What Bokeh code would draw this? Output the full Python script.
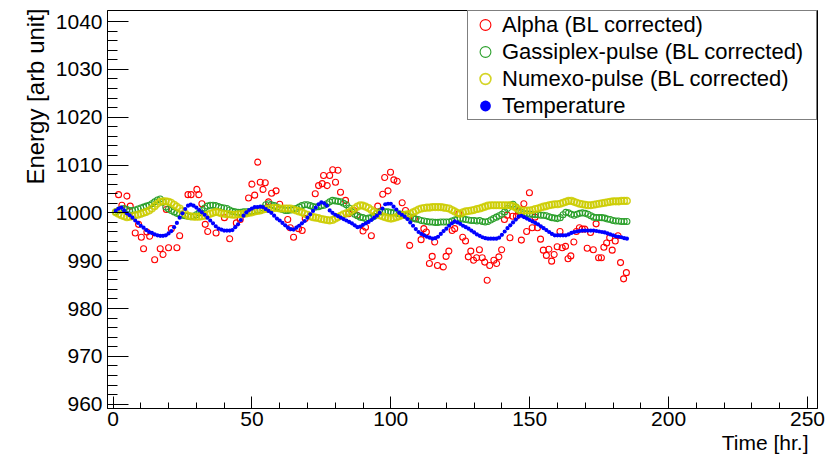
from bokeh.plotting import figure
from bokeh.models import Range1d, FixedTicker, Legend, LegendItem, Title
from bokeh.embed import file_html
from bokeh.resources import INLINE

# ---------------- data ----------------
alpha_t = [2.0, 3.2, 5.0, 6.2, 8.0, 9.2, 10.2, 11.0, 12.2, 13.2, 15.0, 17.0, 18.0, 19.2, 20.0, 21.0,
           23.0, 24.0, 27.0, 28.1, 30.2, 30.9, 32.0, 33.2, 34.1, 37.1, 40.1, 42.0, 44.4, 45.8, 48.8,
           50.0, 51.0, 52.1, 53.0, 54.0, 54.8, 56.0, 57.1, 58.7, 60.0, 62.9, 63.8, 65.0, 66.8, 68.1,
           69.2, 72.8, 74.0, 75.3, 75.8, 77.1, 78.0, 79.1, 80.1, 81.0, 81.9, 83.7, 84.9, 86.7, 87.9,
           90.0, 90.9, 93.0, 95.3, 97.1, 97.8, 99.0, 99.9, 101.1, 102.3, 104.1, 105.3, 106.8, 108.5,
           110.9, 111.9, 112.8, 113.9, 114.9, 115.8, 116.8, 118.9, 119.9, 120.9, 122.1, 123.0, 124.5,
           125.9, 126.9, 127.9, 128.8, 129.8, 130.9, 131.9, 132.9, 133.8, 134.7, 135.6, 137.1, 138.1,
           138.9, 139.9, 140.9, 141.9, 142.9, 143.9, 145.2, 145.9, 147.0, 147.9, 148.9, 149.9, 150.9,
           151.9, 152.8, 153.9, 154.9, 156.0, 156.9, 157.9, 158.8, 159.9, 160.9, 161.7, 162.9, 163.8,
           164.8, 165.9, 166.8, 167.9, 168.9, 169.8, 170.7, 171.9, 172.9, 173.9, 174.8, 175.8, 176.7,
           177.7, 178.8, 179.7, 180.8, 181.8, 182.7, 183.8, 184.8]
alpha_e = [1003.8, 1001.6, 1003.5, 1001.4, 995.8, 997.6, 994.9, 992.5, 996.0, 995.1, 990.2, 992.5,
           991.3, 1000.7, 992.7, 996.7, 992.7, 995.2, 1003.8, 1003.8, 1004.9, 1003.8, 1001.9, 997.6,
           996.1, 995.8, 999.0, 994.6, 997.9, 998.6, 1003.1, 1006.0, 1003.7, 1010.6, 1006.4, 1004.9,
           1006.3, 1002.3, 1004.1, 1004.6, 1001.8, 998.6, 996.9, 994.9, 996.7, 996.3, 998.8, 1004.0,
           1005.7, 1006.1, 1007.8, 1005.7, 1007.8, 1009.0, 1006.4, 1008.9, 1004.3, 1002.6, 999.8,
           1000.5, 999.5, 996.2, 997.0, 995.2, 1001.4, 1003.9, 1007.4, 1004.6, 1008.5, 1006.9, 1006.6,
           1002.1, 1000.5, 993.2, 998.8, 994.4, 996.7, 996.0, 989.4, 990.9, 993.9, 989.0, 988.7, 990.9,
           992.0, 996.3, 996.7, 999.8, 994.9, 994.1, 990.8, 992.0, 990.1, 990.6, 992.3, 990.6, 989.7,
           985.9, 989.0, 990.1, 989.4, 990.8, 992.3, 998.6, 999.5, 994.8, 999.3, 999.3, 1000.3, 994.3,
           1001.9, 996.1, 1004.2, 996.9, 999.1, 996.9, 994.5, 992.2, 991.1, 992.4, 989.9, 991.3, 992.9,
           996.1, 992.7, 993.0, 990.4, 991.0, 993.9, 996.1, 996.9, 996.6, 996.6, 992.6, 995.9, 992.3,
           997.7, 990.6, 990.6, 992.8, 993.7, 994.8, 992.2, 994.1, 995.2, 989.6, 986.2, 987.5]

hours = list(range(1, 186))

gassiplex_e = [1000.2, 1000.5, 1000.8, 1000.9, 1000.7, 1000.5, 1000.5, 1000.6, 1000.8, 1001.0,
               1001.2, 1001.4, 1001.6, 1001.9, 1002.3, 1002.7, 1002.9, 1002.2, 1001.2, 1000.8,
               1000.5, 1000.2, 999.9, 999.7, 999.5, 999.4, 999.3, 999.2, 999.3, 999.6,
               1000.0, 1000.5, 1001.0, 1001.4, 1001.6, 1001.6, 1001.5, 1001.3, 1001.1, 1001.0,
               1000.9, 1000.6, 1000.3, 1000.2, 1000.1, 1000.1, 1000.2, 1000.2, 1000.2, 1000.3,
               1000.4, 1000.5, 1000.5, 1001.0, 1001.7, 1001.9, 1001.7, 1001.5, 1001.2, 1000.9,
               1000.7, 1000.5, 1000.5, 1000.6, 1000.8, 1000.9, 1001.2, 1001.5, 1001.7, 1001.7,
               1001.5, 1001.3, 1001.2, 1001.3, 1001.5, 1001.6, 1001.9, 1002.3, 1002.6, 1002.5,
               1002.4, 1002.3, 1002.0, 1001.7, 1001.0, 1000.2, 999.7, 999.4, 999.1, 999.0,
               998.8, 998.9, 999.0, 999.3, 999.9, 1000.2, 1000.2, 1000.2, 1000.2, 1000.1,
               1000.0, 999.9, 999.8, 999.7, 999.5, 999.3, 999.1, 998.9, 998.7, 998.6,
               998.4, 998.3, 998.2, 998.1, 998.1, 998.0, 998.0, 998.1, 998.1, 998.1,
               998.1, 998.3, 998.5, 998.7, 998.8, 998.7, 998.6, 998.5, 998.4, 998.4,
               998.3, 998.4, 998.2, 998.1, 998.2, 998.5, 998.8, 999.1, 999.4, 999.7,
               1000.2, 1000.9, 1001.6, 1001.8, 1001.2, 1000.6, 1000.1, 999.8, 999.8, 999.7,
               999.7, 999.6, 999.6, 999.5, 999.5, 999.4, 999.2, 999.0, 998.9, 998.8,
               999.0, 999.6, 1000.1, 1000.0, 999.7, 999.5, 999.7, 999.9, 1000.0, 999.9,
               999.7, 999.4, 999.1, 999.0, 999.0, 999.0, 998.9, 998.7, 998.6, 998.4,
               998.3, 998.3, 998.2, 998.2, 998.2]

numexo_e = [1000.1, 999.8, 999.5, 999.3, 999.1, 999.2, 999.3, 999.5, 999.6, 999.8,
            1000.0, 1000.2, 1000.5, 1000.9, 1001.4, 1001.9, 1002.3, 1002.4, 1002.4, 1002.3,
            1002.1, 1001.7, 1001.3, 1000.9, 1000.4, 999.8, 999.4, 999.3, 999.2, 999.2,
            999.2, 999.3, 999.4, 999.6, 999.8, 1000.0, 1000.2, 1000.1, 999.9, 999.8,
            999.7, 999.7, 999.6, 999.6, 999.7, 999.7, 999.8, 999.9, 1000.0, 1000.1,
            1000.3, 1000.4, 1000.5, 1000.7, 1000.8, 1000.9, 1001.0, 1001.0, 1001.0, 1000.9,
            1000.9, 1000.9, 1000.9, 1000.9, 1000.7, 1000.5, 1000.3, 1000.1, 999.8, 999.6,
            999.3, 999.1, 999.0, 998.9, 998.7, 998.6, 998.5, 998.4, 998.5, 998.8,
            999.1, 999.4, 999.7, 999.9, 1000.1, 1000.5, 1000.9, 1001.3, 1001.6, 1001.5,
            1001.3, 1001.0, 1000.6, 1000.2, 999.8, 999.5, 999.3, 999.1, 998.9, 998.8,
            998.9, 999.1, 999.3, 999.5, 999.6, 999.7, 999.8, 1000.1, 1000.4, 1000.7,
            1000.9, 1001.0, 1001.1, 1001.1, 1001.2, 1001.2, 1001.2, 1001.2, 1001.1, 1001.0,
            1000.9, 1000.6, 1000.3, 1000.0, 999.8, 1000.1, 1000.3, 1000.4, 1000.5, 1000.6,
            1000.8, 1000.9, 1001.1, 1001.3, 1001.5, 1001.6, 1001.6, 1001.6, 1001.6, 1001.6,
            1001.6, 1001.6, 1001.6, 1001.4, 1001.1, 1000.7, 1000.5, 1000.5, 1000.5, 1000.5,
            1000.6, 1000.8, 1000.9, 1001.1, 1001.3, 1001.4, 1001.6, 1001.7, 1001.8, 1001.8,
            1001.9, 1002.1, 1002.3, 1002.5, 1002.5, 1002.3, 1002.1, 1001.9, 1001.8, 1001.7,
            1001.6, 1001.6, 1001.7, 1001.8, 1001.9, 1002.0, 1002.1, 1002.2, 1002.3, 1002.4,
            1002.4, 1002.4, 1002.5, 1002.5, 1002.5]

temperature_e = [1000.4, 1000.9, 1001.1, 1000.5, 999.9, 999.5, 999.0, 998.4, 997.9, 997.3,
                 996.9, 996.4, 996.0, 995.8, 995.5, 995.3, 995.2, 995.2, 995.3, 995.7,
                 996.2, 997.0, 997.9, 999.0, 999.9, 1000.8, 1001.5, 1001.7, 1001.5, 1001.1,
                 1000.6, 1000.1, 999.6, 999.0, 998.4, 997.8, 997.2, 996.7, 996.5, 996.3,
                 996.3, 996.3, 996.4, 997.0, 997.6, 998.5, 999.4, 1000.1, 1000.6, 1000.9,
                 1001.2, 1001.2, 1001.3, 1001.2, 1000.8, 1000.4, 1000.0, 999.4, 998.8, 998.4,
                 997.9, 997.4, 996.9, 996.6, 996.5, 996.9, 997.3, 997.8, 998.3, 999.0,
                 999.7, 1000.4, 1001.1, 1001.8, 1002.2, 1002.0, 1001.5, 1000.5, 1000.0, 999.6,
                 999.3, 999.0, 998.7, 998.4, 998.1, 997.8, 997.4, 997.0, 997.1, 997.5,
                 997.8, 998.1, 998.5, 999.0, 999.4, 1000.0, 1000.9, 1001.8, 1001.9, 1001.9,
                 1001.3, 1000.7, 1000.0, 999.6, 999.2, 998.7, 998.0, 997.3, 996.6, 996.0,
                 995.6, 995.3, 995.0, 994.8, 994.6, 994.7, 995.0, 995.6, 996.2, 996.7,
                 997.3, 997.8, 998.2, 998.0, 997.7, 997.3, 997.0, 996.7, 996.3, 995.9,
                 995.5, 995.2, 994.9, 994.7, 994.6, 994.6, 994.6, 994.6, 994.8, 995.4,
                 996.1, 996.8, 997.4, 998.0, 998.6, 999.2, 999.4, 999.1, 998.8, 998.5,
                 998.2, 997.9, 997.6, 997.2, 996.8, 996.4, 996.0, 995.6, 995.3, 995.3,
                 995.3, 995.3, 995.3, 995.5, 995.8, 996.0, 996.1, 996.2, 996.3, 996.3,
                 996.3, 996.3, 996.3, 996.2, 996.1, 996.0, 995.9, 995.7, 995.5, 995.3,
                 995.1, 995.0, 994.9, 994.7, 994.6]

x_major = [0, 50, 100, 150, 200, 250]
x_minor = [0, 10, 20, 30, 40, 50, 60, 70, 80, 90, 100, 110, 120, 130, 140, 150, 160, 170, 180,
           190, 200, 210, 220, 230, 240, 250]
y_major = [960, 970, 980, 990, 1000, 1010, 1020, 1030, 1040]
y_minor = list(range(960, 1041, 2))

labels = ["Alpha (BL corrected)", "Gassiplex-pulse (BL corrected)",
          "Numexo-pulse (BL corrected)", "Temperature"]
x_title = "Time [hr.]"
y_title = "Energy [arb unit]"

FONT = "Liberation Sans"

p = figure(width=835, height=458, output_backend="svg", toolbar_location=None,
           x_range=Range1d(-1.98, 253.6), y_range=Range1d(959.1, 1042.3),
           min_border_left=107, min_border_right=18, min_border_top=10, min_border_bottom=50)
p.grid.visible = False
p.outline_line_color = "black"
p.outline_line_width = 1
p.background_fill_color = "white"
p.border_fill_color = "white"

p.xaxis.ticker = FixedTicker(ticks=x_major, minor_ticks=x_minor)
p.yaxis.ticker = FixedTicker(ticks=y_major, minor_ticks=y_minor)
for ax in (p.xaxis, p.yaxis):
    ax.axis_line_color = "black"
    ax.major_tick_line_color = "black"
    ax.minor_tick_line_color = "black"
    ax.major_tick_out = 0
    ax.minor_tick_out = 0
    ax.major_label_text_font = FONT
    ax.major_label_text_font_size = "21px"
    ax.major_label_text_color = "black"
p.yaxis.major_tick_in = 21
p.yaxis.minor_tick_in = 10
p.yaxis.major_label_standoff = 5
p.xaxis.major_tick_in = 12
p.xaxis.minor_tick_in = 6
p.xaxis.major_label_standoff = 3

r_alpha = p.scatter(alpha_t, alpha_e, marker="circle", size=6, fill_color=None,
                    line_color="#ff0000", line_width=1.1)
r_gas = p.scatter(hours, gassiplex_e, marker="circle", size=6, fill_color=None,
                  line_color="#2ca02c", line_width=1.1)
r_num = p.scatter(hours, numexo_e, marker="circle", size=6.5, fill_color=None,
                  line_color="#cccc00", line_width=1.6, line_alpha=0.85)
r_temp = p.scatter(hours, temperature_e, marker="circle", size=4.2, fill_color="#0000ff",
                   line_color=None)

legend = Legend(items=[LegendItem(label=labels[0], renderers=[r_alpha]),
                       LegendItem(label=labels[1], renderers=[r_gas]),
                       LegendItem(label=labels[2], renderers=[r_num]),
                       LegendItem(label=labels[3], renderers=[r_temp])],
                location="top_right", margin=0, padding=0, spacing=0,
                glyph_width=34, glyph_height=27, label_height=27, label_width=314,
                label_standoff=0, label_text_font=FONT, label_text_font_size="22px",
                label_text_color="black", border_line_color="black", border_line_width=1,
                background_fill_color="white", background_fill_alpha=1.0)
p.add_layout(legend)

p.add_layout(Title(text=y_title, align="right", text_font=FONT, text_font_size="24px",
                   text_font_style="normal", text_color="black", standoff=8, offset=-2), "left")
p.add_layout(Title(text=x_title, align="right", text_font=FONT, text_font_size="21px",
                   text_font_style="normal", text_color="black", standoff=0, offset=9), "below")

open("out.html", "w").write(file_html(p, INLINE))
